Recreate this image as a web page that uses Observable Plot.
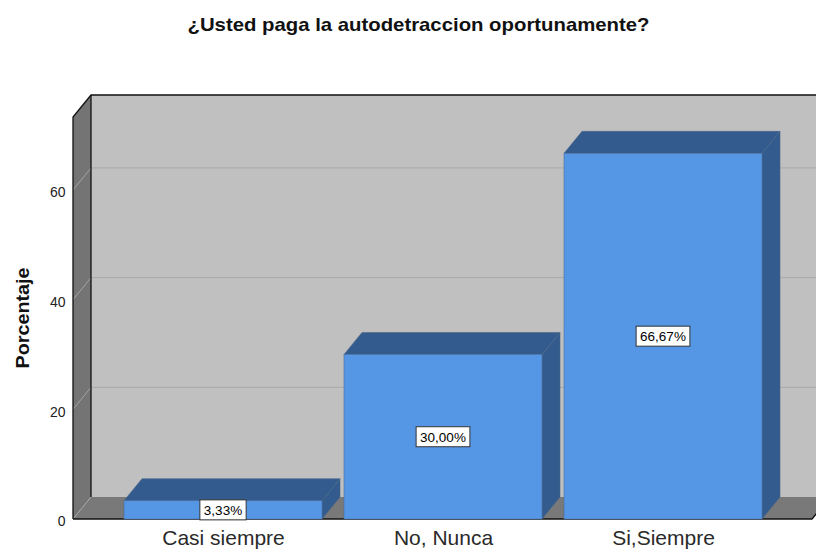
<!DOCTYPE html>
<html>
<head>
<meta charset="utf-8">
<script src="https://cdn.jsdelivr.net/npm/d3@7"></script>
<script src="https://cdn.jsdelivr.net/npm/@observablehq/plot@0.6"></script>
<style>
  html, body { margin: 0; padding: 0; background: #ffffff; }
  #chart svg { display: block; }
</style>
</head>
<body>
<div id="chart"></div>
<script>
// ---- data ----
const categories = ["Casi siempre", "No, Nunca", "Si,Siempre"];
const percentages = [3.33, 30.00, 66.67];
const valueLabels = ["3,33%", "30,00%", "66,67%"];
const yTicks = [0, 20, 40, 60];
const yMax = 73.3;
const titleText = "¿Usted paga la autodetraccion oportunamente?";
const yLabelText = "Porcentaje";

const data = categories.map((c, i) => ({cat: c, value: percentages[i], label: valueLabels[i]}));

// ---- style ----
const FONT = "'Liberation Sans', Arial, sans-serif";
const DX = 18, DY = -22;          // 3D depth offset
const backWall = "#c0c0c0", sideWall = "#747474", floorCol = "#797979";
const barFront = "#5596e5", barDark = "#335b8e";

function bandwidthOf(x) { return typeof x.bandwidth === "function" ? x.bandwidth() : 199; }

// walls, floor and gridlines
function walls(index, scales, values, dims) {
  const {y} = scales;
  const x0 = dims.marginLeft, x1 = dims.width - dims.marginRight;
  const yTop = y(yMax), yBase = y(0);
  const g = d3.create("svg:g");
  g.append("rect").attr("x", x0 + DX).attr("y", yTop + DY)
    .attr("width", x1 - x0 + 40).attr("height", yBase - yTop).attr("fill", backWall);
  g.append("polygon").attr("points", [[x0, yTop], [x0 + DX, yTop + DY], [x0 + DX, yBase + DY], [x0, yBase]].join(" "))
    .attr("fill", sideWall);
  g.append("polygon").attr("points", [[x0, yBase], [x0 + DX, yBase + DY], [x1 + DX, yBase + DY], [x1, yBase]].join(" "))
    .attr("fill", floorCol);
  for (const t of yTicks) {
    if (t === 0) continue;
    g.append("line").attr("x1", x0 + DX).attr("x2", x1 + DX + 40)
      .attr("y1", y(t) + DY).attr("y2", y(t) + DY).attr("stroke", "#a8a8a8").attr("stroke-width", 1);
    g.append("line").attr("x1", x0).attr("x2", x0 + DX)
      .attr("y1", y(t)).attr("y2", y(t) + DY).attr("stroke", "#a4a4a4").attr("stroke-width", 1);
  }
  // floor left diagonal
  g.append("line").attr("x1", x0).attr("x2", x0 + DX).attr("y1", yBase).attr("y2", yBase + DY)
    .attr("stroke", "#a4a4a4").attr("stroke-width", 1);
  // dark frame lines
  const k = "#111";
  g.append("polyline").attr("points", [[x0, yBase], [x0, yTop], [x0 + DX, yTop + DY], [x1 + DX + 40, yTop + DY]].join(" "))
    .attr("fill", "none").attr("stroke", k).attr("stroke-width", 1.3);
  g.append("line").attr("x1", x0 + DX).attr("x2", x0 + DX).attr("y1", yTop + DY).attr("y2", yBase + DY)
    .attr("stroke", k).attr("stroke-width", 1.3);
  g.append("polyline").attr("points", [[x0, yBase], [x1, yBase], [x1 + DX, yBase + DY]].join(" "))
    .attr("fill", "none").attr("stroke", k).attr("stroke-width", 1.3);
  return g.node();
}

// 3D top and side faces of bars
function barDepth(index, scales) {
  const {x, y} = scales;
  const bw = bandwidthOf(x);
  const g = d3.create("svg:g");
  for (const d of data) {
    const a = x(d.cat), b = a + bw, yv = y(d.value), y0 = y(0);
    g.append("polygon").attr("points", [[b, y0], [b, yv], [b + DX, yv + DY], [b + DX, y0 + DY]].join(" "))
      .attr("fill", barDark).attr("stroke", "#4c6688").attr("stroke-width", 0.6);
    g.append("polygon").attr("points", [[a, yv], [b, yv], [b + DX, yv + DY], [a + DX, yv + DY]].join(" "))
      .attr("fill", barDark).attr("stroke", "#4c6688").attr("stroke-width", 0.6);
  }
  return g.node();
}

// value labels in white boxes
const ctx = document.createElement("canvas").getContext("2d");
function valueBoxes(index, scales) {
  const {x, y} = scales;
  const bw = bandwidthOf(x);
  const fs = 13.5;
  ctx.font = `${fs}px ${FONT}`;
  const g = d3.create("svg:g");
  for (const d of data) {
    const cx = x(d.cat) + bw / 2, cy = (y(d.value) + y(0)) / 2;
    const w = ctx.measureText(d.label).width + 8, h = 20;
    g.append("rect").attr("x", cx - w / 2).attr("y", cy - h / 2).attr("width", w).attr("height", h)
      .attr("fill", "#fff").attr("stroke", "#333").attr("stroke-width", 1);
    g.append("text").attr("x", cx).attr("y", cy).attr("dy", "0.36em").attr("text-anchor", "middle")
      .attr("font-size", fs).attr("font-family", FONT).attr("fill", "#000").text(d.label);
  }
  return g.node();
}

// title and y-axis title
function titles(index, scales, values, dims) {
  const g = d3.create("svg:g");
  g.append("text").attr("x", 418.5).attr("y", 31).attr("text-anchor", "middle")
    .attr("font-size", 19).attr("font-weight", "bold").attr("font-family", FONT).attr("fill", "#111")
    .attr("textLength", 462).attr("lengthAdjust", "spacingAndGlyphs").text(titleText);
  const my = (dims.marginTop + dims.height - dims.marginBottom) / 2;
  g.append("text").attr("transform", `translate(29,${my}) rotate(-90)`).attr("text-anchor", "middle")
    .attr("font-size", 19).attr("font-weight", "bold").attr("font-family", FONT).attr("fill", "#111")
    .attr("textLength", 101).attr("lengthAdjust", "spacingAndGlyphs").text(yLabelText);
  return g.node();
}

const chart = Plot.plot({
  width: 816,
  height: 549,
  marginTop: 117,
  marginBottom: 30,
  marginLeft: 73,
  marginRight: 4,
  style: {fontFamily: FONT, background: "#ffffff", overflow: "visible"},
  x: {domain: categories, paddingInner: 0.1, paddingOuter: 0.222, label: null, axis: null},
  y: {domain: [0, yMax], label: null, axis: null},
  marks: [
    walls,
    barDepth,
    Plot.barY(data, {x: "cat", y: "value", fill: barFront, stroke: "#4a6f9e", strokeWidth: 0.6}),
    valueBoxes,
    Plot.text(yTicks, {y: (d) => d, text: (d) => String(d), frameAnchor: "left", textAnchor: "end",
      dx: -8, dy: 2.5, fontSize: 14, fill: "#222"}),
    Plot.text(categories, {x: (d) => d, text: (d) => d, frameAnchor: "bottom", lineAnchor: "top",
      dy: 11, fontSize: 21, fill: "#2a2a2a"}),
    titles
  ]
});
document.getElementById("chart").appendChild(chart);
</script>
</body>
</html>
